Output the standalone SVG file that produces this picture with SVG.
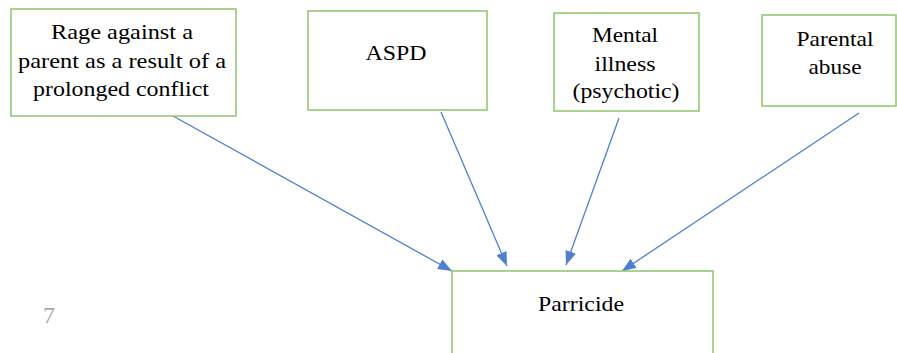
<svg xmlns="http://www.w3.org/2000/svg" width="897" height="353" viewBox="0 0 897 353">
<style>
.box{fill:#fff;stroke:#8cc46a;stroke-width:1.5}
.t{font-family:'Liberation Serif','Times New Roman',serif;font-size:22px;fill:#000;text-anchor:middle}
.c{stroke:#4f7fd0;stroke-width:1.3;fill:none}
</style>
<defs>
<marker id="ah" viewBox="0 0 14 11" refX="14" refY="5.5" markerWidth="14" markerHeight="11" markerUnits="userSpaceOnUse" orient="auto">
<path d="M0,0 L14,5.5 L0,11 z" fill="#4f7fd0"/>
</marker>
</defs>
<rect width="897" height="353" fill="#fff"/>
<g id="connectors">
<line class="c" x1="173" y1="116" x2="452" y2="271" marker-end="url(#ah)"/>
<line class="c" x1="441" y1="112" x2="507" y2="266" marker-end="url(#ah)"/>
<line class="c" x1="619" y1="118" x2="566" y2="265" marker-end="url(#ah)"/>
<line class="c" x1="859" y1="113" x2="622" y2="271" marker-end="url(#ah)"/>
</g>
<g id="rage">
<rect class="box" x="11" y="9" width="225" height="107"/>
<text class="t" x="122" y="39" textLength="142" lengthAdjust="spacingAndGlyphs">Rage against a</text>
<text class="t" x="122" y="68" textLength="208" lengthAdjust="spacingAndGlyphs">parent as a result of a</text>
<text class="t" x="121" y="96" textLength="176" lengthAdjust="spacingAndGlyphs">prolonged conflict</text>
</g>
<g id="aspd">
<rect class="box" x="308" y="11" width="179" height="99"/>
<text class="t" x="396" y="60" textLength="61" lengthAdjust="spacingAndGlyphs">ASPD</text>
</g>
<g id="mental">
<rect class="box" x="554" y="13" width="145" height="98"/>
<text class="t" x="625" y="42" textLength="66" lengthAdjust="spacingAndGlyphs">Mental</text>
<text class="t" x="625" y="71" textLength="61" lengthAdjust="spacingAndGlyphs">illness</text>
<text class="t" x="626" y="98" textLength="107" lengthAdjust="spacingAndGlyphs">(psychotic)</text>
</g>
<g id="abuse">
<rect class="box" x="762" y="15" width="134" height="91"/>
<text class="t" x="835" y="46" textLength="77" lengthAdjust="spacingAndGlyphs">Parental</text>
<text class="t" x="835" y="74" textLength="53" lengthAdjust="spacingAndGlyphs">abuse</text>
</g>
<g id="parricide">
<rect class="box" x="452" y="271" width="261" height="100"/>
<text class="t" x="581" y="311" textLength="86" lengthAdjust="spacingAndGlyphs">Parricide</text>
</g>
<text x="43" y="323" font-family="'Liberation Serif', 'Times New Roman', serif" font-size="24" fill="#a8a8a8">7</text>
</svg>
